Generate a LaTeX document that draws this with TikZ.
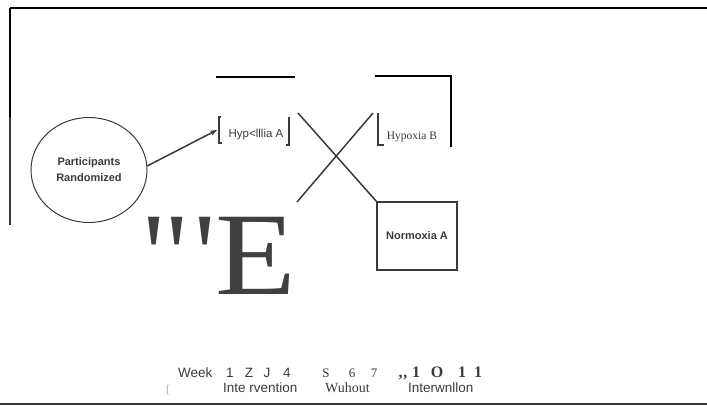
\documentclass[tikz,border=0pt]{standalone}
\usepackage{fontspec}
\setmainfont{Liberation Serif}
\setsansfont{Liberation Sans}
\usetikzlibrary{arrows.meta,shapes.geometric}
\definecolor{ink}{HTML}{3A3A3A}
\tikzset{
  lbl/.style={inner sep=0pt, anchor=base, text=ink},
  sanslbl/.style={lbl, font=\sffamily\fontsize{13.5}{13.5}\selectfont},
  seriflbl/.style={lbl, font=\fontsize{14}{14}\selectfont},
  boldlbl/.style={lbl, font=\bfseries\fontsize{16}{16}\selectfont},
  bigE/.style={lbl, font=\fontsize{118}{118}\selectfont, text={rgb,255:red,64;green,64;blue,64}},
  frameline/.style={draw=black, line width=2pt},
  bracket/.style={draw=ink, line width=1.2pt},
}
\begin{document}
\begin{tikzpicture}[x=1pt,y=-1pt]
\useasboundingbox (0,0) rectangle (707,405);
% frame lines
\coordinate (tl) at (10,8);
\coordinate (tr) at (707,8);
\coordinate (lm) at (10,117);
\coordinate (lb) at (10,225);
\draw[frameline, line width=2.5pt] (tl) -- (tr);
\draw[frameline] (tl) -- (lm);
\draw[draw=ink, line width=1.2pt] (lm) -- (lb);
% lines over hypoxia groups
\coordinate (ha1) at (216,77);
\coordinate (ha2) at (295,77);
\draw[frameline] (ha1) -- (ha2);
\coordinate (hb1) at (375,76);
\coordinate (hb2) at (451,76);
\coordinate (hb3) at (451,147);
\draw[frameline] (hb1) -- (hb2) -- (hb3);
% circle
\node[draw=ink, line width=1pt, ellipse, minimum width=116pt, minimum height=105pt, inner sep=0pt,
      align=center, font=\sffamily\bfseries\fontsize{11}{16}\selectfont, text=ink] (circ) at (89,170)
  {Participants\\Randomized};
% Hypoxia A
\node[sanslbl, font=\sffamily\fontsize{11.5}{11.5}\selectfont] (hypA) at (256,137) {Hyp<lllia A};
\coordinate (hypAin) at (217,130);
\draw[bracket] (221,117) -- (219,117) -- (219,143) -- (222,143);
\draw[bracket] (289,117) -- (289,145) -- (286,145);
\draw[draw=ink, line width=1.5pt, -{Stealth[length=7pt,width=5pt]}] (circ.4) -- (hypAin);
% Hypoxia B
\node[lbl, font=\fontsize{11.5}{11.5}\selectfont] (hypB) at (412,139) {Hypoxia B};
\draw[bracket] (378,113) -- (378,145) -- (384,145);
% cross
\coordinate (x1) at (298,113);
\coordinate (x2) at (377,202);
\coordinate (x3) at (297,202);
\coordinate (x4) at (373,113);
\draw[draw=ink, line width=1.5pt] (x1) -- (x2);
\draw[draw=ink, line width=1.5pt] (x3) -- (x4);
% Normoxia A
\node[draw=ink, line width=1.2pt, minimum width=80pt, minimum height=68pt, inner sep=0pt,
      font=\sffamily\bfseries\fontsize{11}{11}\selectfont, text=ink] (norm) at (417,236) {Normoxia A};
% big E with marks
\node[bigE] (q1) at (154,294) {\textquotesingle};
\node[bigE] (q2) at (177,294) {\textquotesingle};
\node[bigE] (q3) at (205,294) {\textquotesingle};
\node[bigE, anchor=base west, xscale=1.12] (E) at (215,294) {E};
% bottom week line
\node[sanslbl, anchor=base west] (week) at (178,377) {Week};
\node[sanslbl] (w1) at (230,377) {1};
\node[sanslbl] (w2) at (249,377) {Z};
\node[sanslbl] (w3) at (267,377) {J};
\node[sanslbl] (w4) at (287,377) {4};
\node[seriflbl, font=\fontsize{13}{13}\selectfont] (w5) at (326,377) {S};
\node[seriflbl, font=\fontsize{13}{13}\selectfont] (w6) at (352,377) {6};
\node[seriflbl, font=\fontsize{13}{13}\selectfont] (w7) at (374,377) {7};
\node[boldlbl] (w8) at (403,377) {,\kern1pt,};
\node[boldlbl] (w9) at (416,377) {1};
\node[boldlbl] (w10) at (437,377) {O};
\node[boldlbl] (w11) at (462,377) {1};
\node[boldlbl] (w12) at (478,377) {1};
% phase labels
\node[lbl, text=gray!60, font=\fontsize{12}{12}\selectfont] (br) at (168,393) {[};
\node[sanslbl, anchor=base west] (int1) at (223,392) {Inte rvention};
\node[seriflbl, anchor=base west] (wo) at (325,392) {Wuhout};
\node[sanslbl, anchor=base west] (int2) at (408,392) {Interwnllon};
% bottom rule
\coordinate (bl) at (0,404);
\coordinate (br2) at (707,404);
\draw[draw=ink, line width=1.5pt] (bl) -- (br2);
\end{tikzpicture}
\end{document}
